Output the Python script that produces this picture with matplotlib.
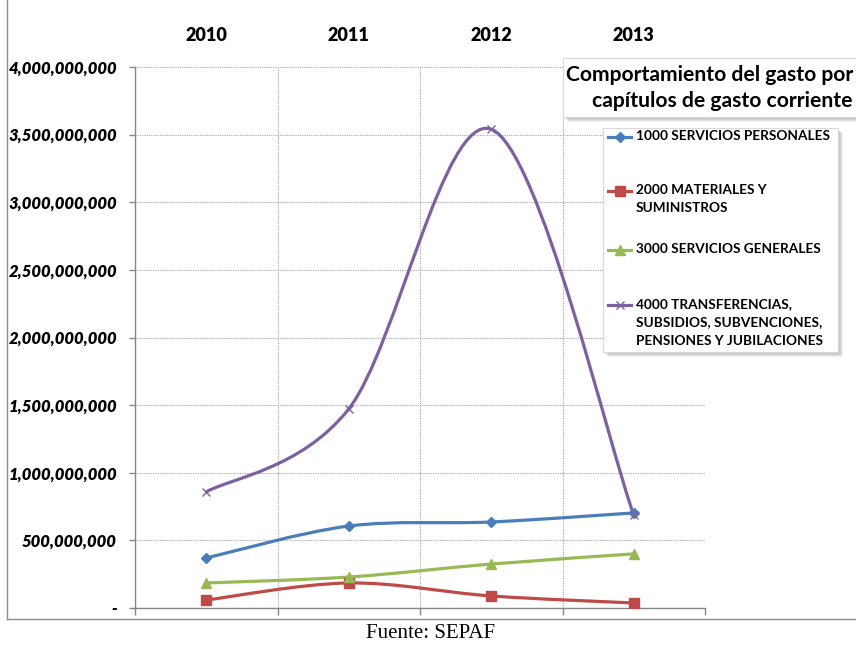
import numpy as np
import matplotlib
matplotlib.use("Agg")
import matplotlib.pyplot as plt
from matplotlib.path import Path
from matplotlib.patches import PathPatch, Rectangle
from matplotlib.lines import Line2D
from matplotlib.ticker import FuncFormatter

# datos del gasto corriente por capitulo
anios = ["2010", "2011", "2012", "2013"]
servicios_personales = [370e6, 606e6, 636e6, 703e6]
materiales_suministros = [59e6, 185e6, 89e6, 37e6]
servicios_generales = [185e6, 229e6, 325e6, 400e6]
transferencias = [858e6, 1472e6, 3540e6, 688e6]

series = [
    ("1000 SERVICIOS PERSONALES", servicios_personales, "#4A7EBB", "D", 5.5),
    ("2000 MATERIALES Y\nSUMINISTROS", materiales_suministros, "#BE4B48", "s", 6.5),
    ("3000 SERVICIOS GENERALES", servicios_generales, "#98B954", "^", 7),
    ("4000 TRANSFERENCIAS,\nSUBSIDIOS, SUBVENCIONES,\nPENSIONES Y JUBILACIONES", transferencias, "#7D60A0", "x", 6),
]

W, H = 856, 649
fig = plt.figure(figsize=(W / 100, H / 100), dpi=100)


def fx(px):
    return px / W


def fy(py):
    return 1 - py / H


ax = fig.add_axes([fx(135), fy(608), fx(705) - fx(135), fy(67) - fy(608)])


def curva_suave(xs, ys):
    # curva tipo Catmull-Rom como el suavizado de Excel
    p = np.column_stack([xs, ys]).astype(float)
    n = len(p)
    verts = [p[0]]
    codes = [Path.MOVETO]
    for i in range(n - 1):
        p0 = p[i - 1] if i > 0 else p[i]
        p1, p2 = p[i], p[i + 1]
        p3 = p[i + 2] if i + 2 < n else p[i + 1]
        verts += [p1 + (p2 - p0) / 6, p2 - (p3 - p1) / 6, p2]
        codes += [Path.CURVE4] * 3
    return Path(verts, codes)


xs = np.arange(len(anios))
for nombre, vals, color, marca, ms in series:
    ax.add_patch(PathPatch(curva_suave(xs, vals), facecolor="none",
                           edgecolor=color, lw=2.3, zorder=3))
    if marca == "x":
        ax.plot(xs, vals, ls="none", marker=marca, ms=ms, mew=1.0,
                color=color, zorder=4)
    else:
        ax.plot(xs, vals, ls="none", marker=marca, ms=ms, color=color,
                mec=color, zorder=4)

ax.set_xlim(-0.5, 3.5)
ax.set_ylim(0, 4e9)
ax.set_yticks(np.arange(0, 4.01e9, 5e8))
ax.yaxis.set_major_formatter(FuncFormatter(lambda v, p: "-" if v == 0 else f"{v:,.0f}"))
ax.set_xticks(xs)
ax.set_xticklabels(anios)
ax.set_xticks(np.arange(-0.5, 3.6, 1), minor=True)

ax.tick_params(axis="x", which="major", top=False, bottom=False,
               labeltop=True, labelbottom=False, pad=13)
ax.tick_params(axis="x", which="minor", bottom=True, top=False,
               length=5, color="#868686", width=1)
ax.tick_params(axis="y", which="major", length=4, color="#868686",
               width=1, pad=9)
for lbl in ax.get_xticklabels():
    lbl.set_fontfamily("Lato")
    lbl.set_fontweight("heavy")
    lbl.set_fontsize(13)
for lbl in ax.get_yticklabels():
    lbl.set_fontfamily("Lato")
    lbl.set_fontweight("heavy")
    lbl.set_fontstyle("italic")
    lbl.set_fontsize(12)

ax.grid(True, axis="y", which="major", color="#a6a6a6", ls=(0, (1, 1)), lw=0.8)
ax.grid(True, axis="x", which="minor", color="#a6a6a6", ls=(0, (1, 1)), lw=0.8)
ax.set_axisbelow(True)
for lado in ["top", "right"]:
    ax.spines[lado].set_visible(False)
for lado in ["left", "bottom"]:
    ax.spines[lado].set_color("#868686")
    ax.spines[lado].set_linewidth(1)

# marco del area del grafico
fig.add_artist(Line2D([fx(7), fx(7)], [fy(0), fy(619)], color="#8c8c8c", lw=1))
fig.add_artist(Line2D([fx(7), fx(856)], [fy(619), fy(619)], color="#8c8c8c", lw=1))


def caja_sombra(x0, y0, x1, y1):
    for k in range(5, 0, -1):
        fig.add_artist(Rectangle((fx(x0 + k), fy(y1 + k)), fx(x1 - x0), fy(y0) - fy(y1),
                                 facecolor="black", edgecolor="none",
                                 alpha=0.06, zorder=5))
    fig.add_artist(Rectangle((fx(x0), fy(y1)), fx(x1 - x0), fy(y0) - fy(y1),
                             facecolor="white", edgecolor="#d9d9d9", lw=0.8, zorder=6))


# titulo
caja_sombra(563, 58, 870, 117)
fig.text(fx(853), fy(88), "Comportamiento del gasto por\ncapítulos de gasto corriente",
         ha="right", va="center", fontfamily="Lato", fontweight="bold",
         fontsize=15.2, linespacing=1.4, zorder=7)

# leyenda
caja_sombra(603, 128, 838, 352)
pos_y = [137, 191, 250, 305]
for (nombre, vals, color, marca, ms), py in zip(series, pos_y):
    fig.add_artist(Line2D([fx(608), fx(631)], [fy(py), fy(py)], color=color, lw=2.3, zorder=7))
    fig.add_artist(Line2D([fx(619.5)], [fy(py)], ls="none", marker=marca, ms=ms,
                          color=color, mew=1.0 if marca == "x" else 1, zorder=8))
    fig.text(fx(636), fy(py - 7), nombre, ha="left", va="top", fontfamily="Lato",
             fontweight="bold", fontsize=9.8, linespacing=1.65, zorder=8)

fig.text(fx(431), fy(633), "Fuente: SEPAF", ha="center", va="center",
         fontfamily="Liberation Serif", fontsize=15)

fig.savefig("out.png", dpi=100)
